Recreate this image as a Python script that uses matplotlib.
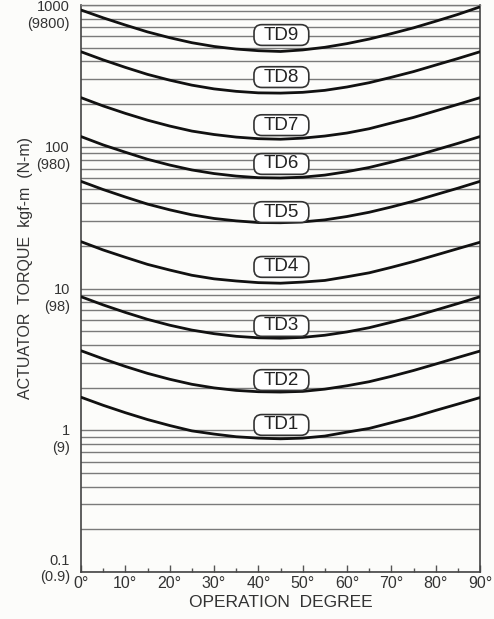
import matplotlib
matplotlib.use("Agg")
import matplotlib.pyplot as plt
from matplotlib.patches import BoxStyle
import numpy as np

plt.rcParams['font.family'] = ['Liberation Sans', 'DejaVu Sans']

# ---- data ----
degrees = [0, 5, 10, 15, 20, 25, 30, 35, 40, 45, 50, 55, 60, 65, 70, 75, 80, 85, 90]
series_names = ["TD9", "TD8", "TD7", "TD6", "TD5", "TD4", "TD3", "TD2", "TD1"]
td9 = [922, 812, 722, 646, 588, 542, 510, 489, 476, 470, 482, 503, 534, 575, 628, 690, 768, 858, 970]
td8 = [468, 410, 363, 324, 295, 272, 256, 246, 240, 239, 242, 250, 264, 283, 309, 339, 377, 419, 468]
td7 = [222, 194, 172, 154, 140, 129, 122, 117, 114, 113, 115, 119, 125, 134, 147, 161, 179, 199, 222]
td6 = [118, 103, 91.5, 81.6, 74.3, 68.6, 64.7, 62.1, 60.5, 60.2, 61.0, 63.1, 66.7, 71.4, 77.9, 85.6, 95.0, 105.6, 118]
td5 = [57, 49.9, 44.2, 39.4, 35.9, 33.1, 31.2, 30.0, 29.2, 29.1, 29.5, 30.5, 32.2, 34.5, 37.6, 41.3, 45.9, 51.0, 57]
td4 = [21.4, 18.7, 16.6, 14.8, 13.5, 12.4, 11.7, 11.3, 11.0, 10.9, 11.1, 11.4, 12.1, 12.9, 14.1, 15.5, 17.2, 19.1, 21.2]
td3 = [8.75, 7.66, 6.78, 6.06, 5.51, 5.09, 4.80, 4.60, 4.49, 4.46, 4.52, 4.68, 4.94, 5.29, 5.78, 6.34, 7.04, 7.83, 8.75]
td2 = [3.64, 3.19, 2.82, 2.52, 2.29, 2.11, 1.99, 1.91, 1.87, 1.86, 1.88, 1.95, 2.06, 2.20, 2.40, 2.64, 2.93, 3.26, 3.62]
td1 = [1.71, 1.50, 1.33, 1.19, 1.08, 0.99, 0.94, 0.90, 0.88, 0.87, 0.88, 0.91, 0.97, 1.03, 1.13, 1.24, 1.38, 1.53, 1.70]
series_values = [td9, td8, td7, td6, td5, td4, td3, td2, td1]

y_ticks = [0.1, 1, 10, 100, 1000]
y_tick_main = ["0.1", "1", "10", "100", "1000"]
y_tick_sub = ["(0.9)", "(9)", "(98)", "(980)", "(9800)"]
x_ticks = [0, 10, 20, 30, 40, 50, 60, 70, 80, 90]
x_tick_labels = ["0°", "10°", "20°", "30°", "40°", "50°", "60°", "70°", "80°", "90°"]

# layout: label anchor positions (torque value at label centre)
label_x = 45.2
label_y = [614, 310, 142, 75.6, 34.6, 14.2, 5.44, 2.26, 1.09]

W, H = 494, 619
fig = plt.figure(figsize=(W / 100, H / 100), dpi=100)
bg = "#fcfcfa"
fig.patch.set_facecolor(bg)
ax = fig.add_axes([81 / W, 1 - 572 / H, (480 - 81) / W, (572 - 5) / H])
ax.set_facecolor(bg)
ax.set_yscale("log")
ax.set_xlim(0, 90)
ax.set_ylim(0.1, 1000)

# horizontal grid at every log minor/major step
ax.yaxis.grid(True, which="both", color="#7a7a7a", lw=1.0)
ax.xaxis.grid(False)
ax.set_axisbelow(True)

for vals in series_values:
    ax.plot(degrees, vals, color="#111111", lw=2.0, solid_capstyle="round",
            solid_joinstyle="round", zorder=3)


def label_box(x0, y0, width, height, mutation_size):
    padx = 0.52 * mutation_size
    pady = 0.10 * mutation_size
    return BoxStyle.Round(pad=0, rounding_size=0.42)(
        x0 - padx, y0 - pady, width + 2 * padx, height + 2 * pady, mutation_size)


for name, ly in zip(series_names, label_y):
    ax.text(label_x, ly, name, ha="center", va="center", fontsize=13.5, color="#222222",
            zorder=4,
            bbox=dict(boxstyle=label_box, fc="white", ec="#333333", lw=1.2))

# y tick labels (two lines)
ax.set_yticks(y_ticks)
ax.set_yticklabels([])
ax.tick_params(axis="y", which="both", length=0)
for i, (v, m, s) in enumerate(zip(y_ticks, y_tick_main, y_tick_sub)):
    if i == 0:
        dy_main, dy_sub = 11, -4.5
    elif i == len(y_ticks) - 1:
        dy_main, dy_sub = -2, -19
    else:
        dy_main, dy_sub = -1, -18
    ax.annotate(m, xy=(0, v), xycoords=("axes fraction", "data"),
                xytext=(-11, dy_main), textcoords="offset pixels",
                ha="right", va="center", fontsize=10.5, color="#333333", annotation_clip=False)
    ax.annotate(s, xy=(0, v), xycoords=("axes fraction", "data"),
                xytext=(-11, dy_sub), textcoords="offset pixels",
                ha="right", va="center", fontsize=10.5, color="#333333", annotation_clip=False)

ax.set_xticks(x_ticks)
ax.set_xticklabels(x_tick_labels, fontsize=11.5, color="#333333")
ax.set_xticks(np.arange(5, 90, 10), minor=True)
ax.tick_params(axis="x", which="major", direction="in", length=5, width=1.0, color="#555555", pad=3)
ax.tick_params(axis="x", which="minor", direction="in", length=3, width=1.0, color="#555555")

for side in ["left", "bottom", "right", "top"]:
    ax.spines[side].set_color("#444444")
    ax.spines[side].set_linewidth(1.2)
ax.spines["top"].set_color("#7a7a7a")
ax.spines["top"].set_linewidth(1.0)

ax.set_xlabel("OPERATION  DEGREE", fontsize=12.5, color="#333333", labelpad=3)
fig.text(26 / W, 1 - 268 / H, "ACTUATOR  TORQUE  kgf-m  (N-m)", rotation=90,
         ha="center", va="center", fontsize=11.5, color="#333333")

fig.savefig("out.png", dpi=100, facecolor=bg)
